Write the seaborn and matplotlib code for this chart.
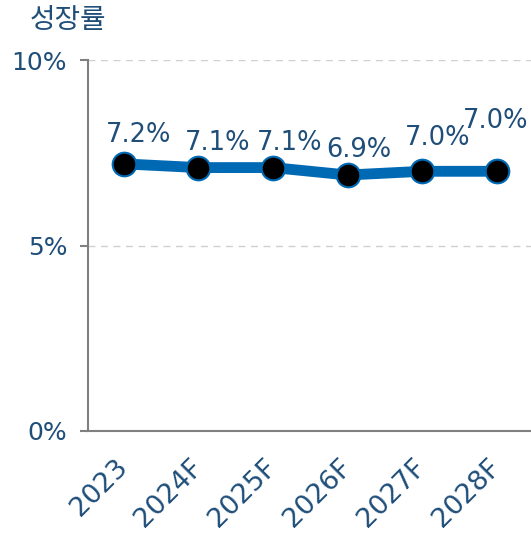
import matplotlib
matplotlib.use("Agg")
import matplotlib.pyplot as plt
import matplotlib.transforms as mtransforms
import seaborn as sns
from matplotlib.ticker import FuncFormatter

years = ["2023", "2024F", "2025F", "2026F", "2027F", "2028F"]
growth = [7.2, 7.1, 7.1, 6.9, 7.0, 7.0]
value_labels = ["7.2%", "7.1%", "7.1%", "6.9%", "7.0%", "7.0%"]
y_ticks = [0, 5, 10]

# hand-placed label offsets (pixels) as in the original
label_dx = [15, 19, 17, 11, 16, -1]
label_dy = [22, 18, 18, 18, 26, 43]

text_color = "#1F4E79"
line_color = "#0069B4"

sns.set_theme(style="white")
plt.rcParams["font.family"] = ["DejaVu Sans", "Noto Sans CJK KR"]

fig = plt.figure(figsize=(5.31, 5.37), dpi=100)
ax = fig.add_axes([88 / 531, 1 - 431 / 537, 1 - 88 / 531, (431 - 60) / 537])

pos = list(range(len(years)))
sns.lineplot(x=pos, y=growth, ax=ax, color=line_color, linewidth=7.8,
             marker="o", markersize=17, markerfacecolor="black",
             markeredgecolor=line_color, markeredgewidth=1.5)

for i, (v, lab) in enumerate(zip(growth, value_labels)):
    ax.annotate(lab, (i, v), xytext=(label_dx[i], label_dy[i]),
                textcoords="offset pixels", ha="center", va="baseline",
                fontsize=18.5, color=text_color)

ax.set_xlim(-0.48, 5.46)
ax.set_ylim(0, 10)
ax.set_yticks(y_ticks)
ax.yaxis.set_major_formatter(FuncFormatter(lambda v, _: f"{v:.0f}%"))
ax.set_xticks(pos)
ax.set_xticklabels(years, rotation=45, ha="right", va="center",
                   rotation_mode="anchor")
shift = mtransforms.ScaledTranslation(-3.5 / 100, 0, fig.dpi_scale_trans)
for t in ax.get_xticklabels():
    t.set_transform(t.get_transform() + shift)

for y in y_ticks[1:]:
    ax.axhline(y, color="#D0D0D0", linestyle=(0, (5, 4)), linewidth=1, zorder=0)

for s in ["top", "right"]:
    ax.spines[s].set_visible(False)
for s in ["left", "bottom"]:
    ax.spines[s].set_color("#808080")
    ax.spines[s].set_linewidth(1.5)

ax.tick_params(axis="y", left=True, length=6, width=1.5, color="#808080",
               labelsize=18, labelcolor=text_color, pad=9)
ax.tick_params(axis="x", bottom=False, length=0, labelsize=19.5,
               labelcolor=text_color, pad=23.5)
ax.set_xlabel("")
ax.set_ylabel("")

fig.text(30 / 531, 1 - 20 / 537, "성장률", fontsize=20, color=text_color,
         va="center", ha="left", family=["Noto Sans CJK KR", "DejaVu Sans"])

fig.savefig("out.png", dpi=100)
